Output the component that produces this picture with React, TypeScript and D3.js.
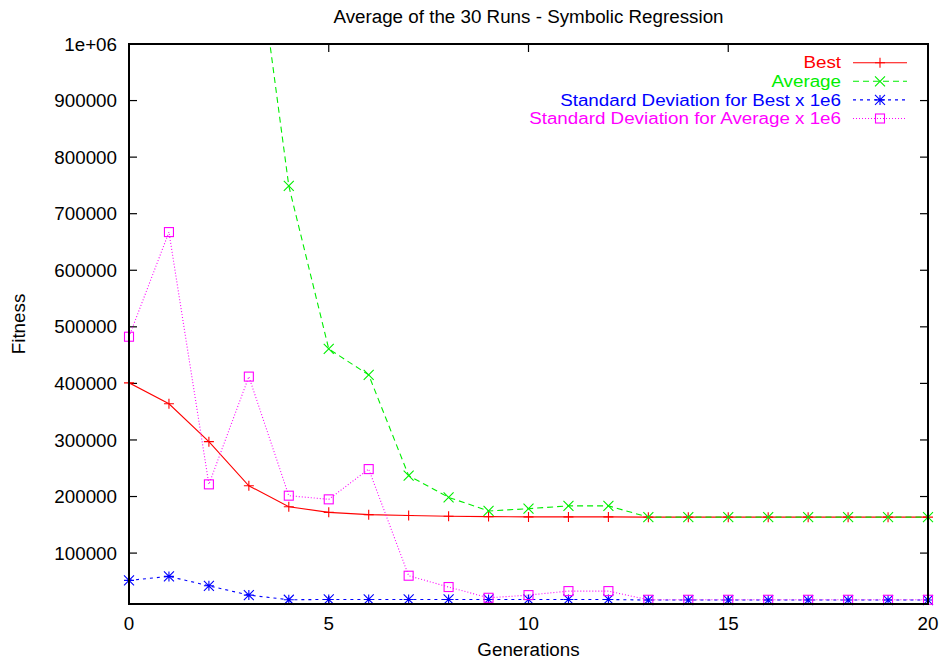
import React from 'react';
import * as d3 from 'd3';

// gnuplot-style line chart: fitness per generation, 4 series with point markers.

const GENERATIONS = [0, 1, 2, 3, 4, 5, 6, 7, 8, 9, 10, 11, 12, 13, 14, 15, 16, 17, 18, 19, 20];

const BEST = [
  401000, 364000, 297000, 219000, 182000, 172000, 168000, 166500, 165000, 164500, 164000,
  164000, 164000, 163500, 163500, 163500, 163500, 163500, 163500, 163500, 163500,
];

// first points are above the plotted range (clipped)
const AVERAGE = [
  2600000, 2000000, 1600000, 1280000, 749000, 461000, 415000, 237000, 198500, 174500, 178500,
  183500, 183500, 163500, 163500, 163500, 163500, 163500, 163500, 163500, 163500,
];

const SD_BEST = [
  51700, 58800, 42200, 25700, 17500, 18000, 18000, 18000, 18000, 18000, 18000,
  18000, 18000, 17000, 17000, 17000, 17000, 17000, 17000, 17000, 17000,
];

const SD_AVERAGE = [
  482500, 667500, 221500, 412000, 201500, 195000, 248500, 60000, 40000, 21000, 25700,
  32800, 32800, 17500, 17500, 17500, 17500, 17500, 17500, 17500, 17500,
];

const Y_TICKS = [100000, 200000, 300000, 400000, 500000, 600000, 700000, 800000, 900000, 1000000];
const X_TICKS = [0, 5, 10, 15, 20];

const SERIES = [
  { name: 'Best', values: BEST, color: '#ff0000', dash: null, marker: 'plus' },
  { name: 'Average', values: AVERAGE, color: '#00ee00', dash: '6,4', marker: 'cross' },
  { name: 'Standard Deviation for Best x 1e6', values: SD_BEST, color: '#0000ff', dash: '3,4', marker: 'star' },
  { name: 'Standard Deviation for Average x 1e6', values: SD_AVERAGE, color: '#ff00ff', dash: '1,2', marker: 'square' },
];

const W = 943;
const H = 663;
const M = { left: 129, right: 928, top: 44, bottom: 604 };
const FONT = '"Liberation Sans", Arial, Helvetica, sans-serif';
const FS = 18.8;
const LEG_FS = 16;
const TICK = 8;

function Marker({ type, x, y, color }: { type: string; x: number; y: number; color: string }) {
  const r = 5;
  const sw = 1.1;
  if (type === 'plus') {
    return <path d={`M${x - r},${y}H${x + r}M${x},${y - r}V${y + r}`} stroke={color} strokeWidth={sw} fill="none" />;
  }
  if (type === 'cross') {
    return <path d={`M${x - r},${y - r}L${x + r},${y + r}M${x - r},${y + r}L${x + r},${y - r}`} stroke={color} strokeWidth={sw} fill="none" />;
  }
  if (type === 'star') {
    return (
      <path
        d={`M${x - r},${y}H${x + r}M${x},${y - r}V${y + r}M${x - r},${y - r}L${x + r},${y + r}M${x - r},${y + r}L${x + r},${y - r}`}
        stroke={color}
        strokeWidth={sw}
        fill="none"
      />
    );
  }
  return <rect x={x - 4.5} y={y - 4.5} width={9} height={9} stroke={color} strokeWidth={sw} fill="none" />;
}

export default function App() {
  const x = d3.scaleLinear().domain([0, 20]).range([M.left, M.right]);
  const y = d3.scaleLinear().domain([10000, 1000000]).range([M.bottom, M.top]);

  const line = d3
    .line<number>()
    .x((_, i) => x(GENERATIONS[i]))
    .y((d) => y(d));

  const fmt = (d: number) => (d >= 1000000 ? '1e+06' : String(d));

  return (
    <svg
      width={W}
      height={H}
      viewBox={`0 0 ${W} ${H}`}
      style={{ position: 'fixed', left: 0, top: 0, background: '#fff' }}
      fontFamily={FONT}
    >
      <defs>
        <clipPath id="plot-clip">
          <rect x={M.left} y={M.top} width={M.right - M.left} height={M.bottom - M.top} />
        </clipPath>
      </defs>
      <rect x={0} y={0} width={W} height={H} fill="#fff" />

      {/* Title */}
      <text x={(M.left + M.right) / 2} y={23} textAnchor="middle" fontSize={FS} fill="#000">
        Average of the 30 Runs - Symbolic Regression
      </text>

      {/* Y ticks + labels */}
      {Y_TICKS.map((t) => (
        <g key={`y-${t}`}>
          <line x1={M.left} x2={M.left + TICK} y1={y(t)} y2={y(t)} stroke="#000" strokeWidth={1.2} />
          <line x1={M.right} x2={M.right - TICK} y1={y(t)} y2={y(t)} stroke="#000" strokeWidth={1.2} />
          <text x={117} y={y(t)} dy="0.35em" textAnchor="end" fontSize={FS} fill="#000">
            {fmt(t)}
          </text>
        </g>
      ))}

      {/* X ticks + labels */}
      {X_TICKS.map((t) => (
        <g key={`x-${t}`}>
          <line x1={x(t)} x2={x(t)} y1={M.bottom} y2={M.bottom - TICK} stroke="#000" strokeWidth={1.2} />
          <line x1={x(t)} x2={x(t)} y1={M.top} y2={M.top + TICK} stroke="#000" strokeWidth={1.2} />
          <text x={x(t)} y={630} textAnchor="middle" fontSize={FS} fill="#000">
            {t}
          </text>
        </g>
      ))}

      {/* Axis titles */}
      <text
        x={25}
        y={(M.top + M.bottom) / 2}
        transform={`rotate(-90, 25, ${(M.top + M.bottom) / 2})`}
        textAnchor="middle"
        fontSize={FS}
        fill="#000"
      >
        Fitness
      </text>
      <text x={(M.left + M.right) / 2} y={656} textAnchor="middle" fontSize={FS} fill="#000">
        Generations
      </text>

      {/* Series lines */}
      <g clipPath="url(#plot-clip)">
        {SERIES.map((s) => (
          <path
            key={`l-${s.name}`}
            d={line(s.values) ?? ''}
            fill="none"
            stroke={s.color}
            strokeWidth={1.1}
            strokeDasharray={s.dash ?? undefined}
          />
        ))}
      </g>

      {/* Markers (only in range, not clipped) */}
      {SERIES.map((s) =>
        s.values.map((v, i) =>
          v <= 1000000 ? (
            <Marker key={`m-${s.name}-${i}`} type={s.marker} x={x(GENERATIONS[i])} y={y(v)} color={s.color} />
          ) : null,
        ),
      )}

      {/* Legend */}
      {SERIES.map((s, i) => {
        const ly = 62.7 + i * 18.6;
        return (
          <g key={`leg-${s.name}`}>
            <text
              transform={`translate(841, ${ly}) scale(1.175, 1)`}
              dy="0.36em"
              textAnchor="end"
              fontSize={LEG_FS}
              fill={s.color}
            >
              {s.name}
            </text>
            <line x1={853} x2={907} y1={ly} y2={ly} stroke={s.color} strokeWidth={1.1} strokeDasharray={s.dash ?? undefined} />
            <Marker type={s.marker} x={880} y={ly} color={s.color} />
          </g>
        );
      })}

      {/* Border */}
      <rect
        x={M.left}
        y={M.top}
        width={M.right - M.left}
        height={M.bottom - M.top}
        fill="none"
        stroke="#000"
        strokeWidth={2}
      />
    </svg>
  );
}
